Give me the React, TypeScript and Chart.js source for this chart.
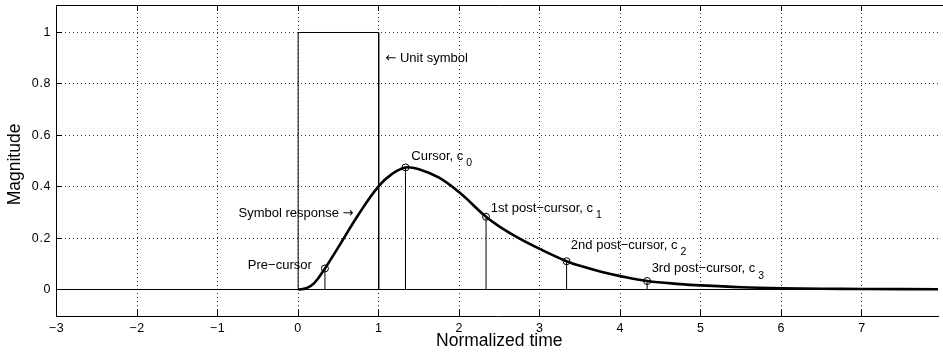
import React, { useEffect, useRef } from "react";
import { Chart, registerables } from "chart.js";

Chart.register(...registerables);

// ---- axis ticks ----
const X_TICKS = [-3, -2, -1, 0, 1, 2, 3, 4, 5, 6, 7];
const X_TICK_LABELS = ["−3", "−2", "−1", "0", "1", "2", "3", "4", "5", "6", "7"];
const Y_TICKS = [0, 0.2, 0.4, 0.6, 0.8, 1];
const Y_TICK_LABELS = ["0", "0.2", "0.4", "0.6", "0.8", "1"];
const X_MIN = -3.00617;
const X_MAX = 7.9443;
const X_FULL_MAX = 8;
const Y_MIN = -0.1031;
const Y_MAX = 1.107;

// ---- symbol response ----
const responseT = [0, 0.1, 0.2, 0.333, 0.5, 0.75, 1.0, 1.167, 1.333, 1.5, 1.75, 2.0, 2.333, 2.5, 2.75, 3.0, 3.333, 3.5, 3.75, 4.0, 4.333, 4.75, 5.0, 5.5, 6.0, 6.5, 7.0, 8.0];
const responseY = [0, 0.005, 0.025, 0.082, 0.165, 0.292, 0.402, 0.45, 0.475, 0.468, 0.435, 0.378, 0.283, 0.245, 0.198, 0.158, 0.11, 0.092, 0.07, 0.052, 0.033, 0.021, 0.016, 0.009, 0.005, 0.003, 0.002, 0.001];

// ---- cursor samples ----
const cursorT = [0.333, 1.333, 2.333, 3.333, 4.333];
const cursorY = [0.082, 0.475, 0.283, 0.11, 0.033];

// ---- unit symbol ----
const unitT = [0, 0, 1, 1];
const unitY = [0, 1, 1, 0];

// ---- zero line ----
const baselineT = [-3.1, 8];
const baselineY = [0, 0];

// ---- annotations ----
const annText = ["← Unit symbol", "Cursor, c", "Symbol response →", "Pre−cursor", "1st post−cursor, c", "2nd post−cursor, c", "3rd post−cursor, c"];
const annSub = ["", "0", "", "", "1", "2", "3"];
const annX = [1.084, 1.405, 0.687, -0.624, 2.392, 3.386, 4.389];
const annY = [0.899, 0.518, 0.296, 0.093, 0.315, 0.171, 0.081];
const annAlign = ["left", "left", "right", "left", "left", "left", "left"];

const X_TITLE = "Normalized time";
const Y_TITLE = "Magnitude";

const FONT = '"Liberation Sans", Arial, Helvetica, sans-serif';
const ARROW_FONT = '"DejaVu Sans", sans-serif';

const pts = (xs: number[], ys: number[]) => xs.map((x, i) => ({ x, y: ys[i] }));

const stemData = () => {
  const d: any[] = [];
  cursorT.forEach((t, i) => {
    d.push({ x: t, y: 0 });
    d.push({ x: t, y: cursorY[i] });
    d.push({ x: t, y: null });
  });
  return d;
};

// draw text where arrow glyphs use a font with long arrows
const drawRuns = (ctx: CanvasRenderingContext2D, text: string, x: number, y: number, align: string, size: number) => {
  const runs: { s: string; f: string }[] = [];
  for (const ch of text) {
    const f = ch === "←" || ch === "→" ? ARROW_FONT : FONT;
    if (runs.length && runs[runs.length - 1].f === f) runs[runs.length - 1].s += ch;
    else runs.push({ s: ch, f });
  }
  let total = 0;
  runs.forEach((r) => {
    ctx.font = `${size}px ${r.f}`;
    total += ctx.measureText(r.s).width;
  });
  let cx = align === "right" ? x - total : x;
  ctx.textAlign = "left";
  runs.forEach((r) => {
    ctx.font = `${size}px ${r.f}`;
    ctx.fillText(r.s, cx, y);
    cx += ctx.measureText(r.s).width;
  });
  return cx;
};

const overlay = {
  id: "overlay",
  afterDraw(chart: any) {
    const ctx = chart.ctx;
    const { left, top, bottom } = chart.chartArea;
    const xs = chart.scales.x;
    const ys = chart.scales.y;
    const al = (v: number) => Math.round(v - 0.5) + 0.5;
    ctx.save();
    ctx.strokeStyle = "#000";
    ctx.lineWidth = 1;
    ctx.setLineDash([]);
    // top border
    ctx.beginPath();
    ctx.moveTo(left, top + 0.5);
    ctx.lineTo(chart.width, top + 0.5);
    ctx.stroke();
    // ticks inside
    const TL = 6;
    ctx.beginPath();
    X_TICKS.forEach((v) => {
      const p = al(xs.getPixelForValue(v));
      ctx.moveTo(p, bottom);
      ctx.lineTo(p, bottom - TL);
      ctx.moveTo(p, top);
      ctx.lineTo(p, top + TL);
    });
    Y_TICKS.forEach((v) => {
      const p = al(ys.getPixelForValue(v));
      ctx.moveTo(left, p);
      ctx.lineTo(left + TL, p);
    });
    ctx.stroke();

    // tick labels
    ctx.fillStyle = "#000";
    ctx.font = `12.5px ${FONT}`;
    (ctx as any).letterSpacing = "0.6px";
    ctx.textBaseline = "middle";
    ctx.textAlign = "center";
    X_TICKS.forEach((v, i) => {
      ctx.fillText(X_TICK_LABELS[i], xs.getPixelForValue(v), bottom + 13);
    });
    ctx.textAlign = "right";
    Y_TICKS.forEach((v, i) => {
      ctx.fillText(Y_TICK_LABELS[i], left - 5, ys.getPixelForValue(v));
    });
    (ctx as any).letterSpacing = "0px";

    // axis titles
    ctx.font = `17.5px ${FONT}`;
    ctx.textAlign = "center";
    const cx = (left + xs.getPixelForValue(X_FULL_MAX)) / 2;
    ctx.fillText(X_TITLE, cx, bottom + 25);
    ctx.save();
    ctx.translate(15, (top + bottom) / 2 + 4);
    ctx.rotate(-Math.PI / 2);
    ctx.fillText(Y_TITLE, 0, 0);
    ctx.restore();

    // annotations
    ctx.textBaseline = "middle";
    annText.forEach((t, i) => {
      const px = xs.getPixelForValue(annX[i]);
      const py = ys.getPixelForValue(annY[i]);
      const end = drawRuns(ctx, t, px, py, annAlign[i], 13);
      if (annSub[i]) {
        ctx.font = `10.5px ${FONT}`;
        ctx.textAlign = "left";
        ctx.fillText(annSub[i], end + 3, py + 7);
      }
    });
    ctx.restore();
  },
};

export default function App() {
  const ref = useRef<HTMLCanvasElement | null>(null);
  useEffect(() => {
    if (!ref.current) return;
    const chart = new Chart(ref.current, {
      type: "line",
      data: {
        datasets: [
          {
            data: pts(baselineT, baselineY),
            borderColor: "#000",
            borderWidth: 1,
            pointRadius: 0,
            tension: 0,
          },
          {
            data: pts(unitT, unitY),
            borderColor: "#000",
            borderWidth: 1,
            pointRadius: 0,
            tension: 0,
          },
          {
            data: stemData(),
            borderColor: "#000",
            borderWidth: 1,
            pointRadius: 0,
            tension: 0,
            spanGaps: false,
          },
          {
            data: pts(responseT, responseY),
            borderColor: "#000",
            borderWidth: 2.6,
            pointRadius: 0,
            tension: 0.4,
          },
          {
            data: pts(cursorT, cursorY),
            showLine: false,
            pointStyle: "circle",
            pointRadius: 3.5,
            pointBorderWidth: 1,
            pointBorderColor: "#000",
            pointBackgroundColor: "rgba(0,0,0,0)",
          },
        ] as any,
      },
      options: {
        animation: false,
        responsive: false,
        maintainAspectRatio: false,
        events: [],
        layout: { padding: { top: 5, left: 0, right: 0, bottom: 0 } },
        plugins: { legend: { display: false }, tooltip: { enabled: false } },
        scales: {
          x: {
            type: "linear",
            min: X_MIN,
            max: X_MAX,
            afterBuildTicks: (s: any) => {
              s.ticks = X_TICKS.map((v) => ({ value: v }));
            },
            afterFit: (s: any) => {
              s.height = 47;
            },
            ticks: { display: false },
            grid: {
              drawTicks: false,
              lineWidth: 1,
              color: (c: any) => (c.tick && c.tick.value === -3 ? "rgba(0,0,0,0)" : "#333"),
            },
            border: { display: true, color: "#000", width: 1, dash: [1, 3] },
          },
          y: {
            type: "linear",
            min: Y_MIN,
            max: Y_MAX,
            afterBuildTicks: (s: any) => {
              s.ticks = Y_TICKS.map((v) => ({ value: v }));
            },
            afterFit: (s: any) => {
              s.width = 56;
            },
            ticks: { display: false },
            grid: { drawTicks: false, lineWidth: 1, color: "#333" },
            border: { display: true, color: "#000", width: 1, dash: [1, 3] },
          },
        },
      } as any,
      plugins: [overlay],
    });
    return () => chart.destroy();
  }, []);
  return (
    <div style={{ position: "absolute", left: 0, top: 0, width: 943, height: 363, background: "#fff" }}>
      <canvas ref={ref} width={943} height={363} style={{ display: "block", width: 943, height: 363 }} />
    </div>
  );
}
